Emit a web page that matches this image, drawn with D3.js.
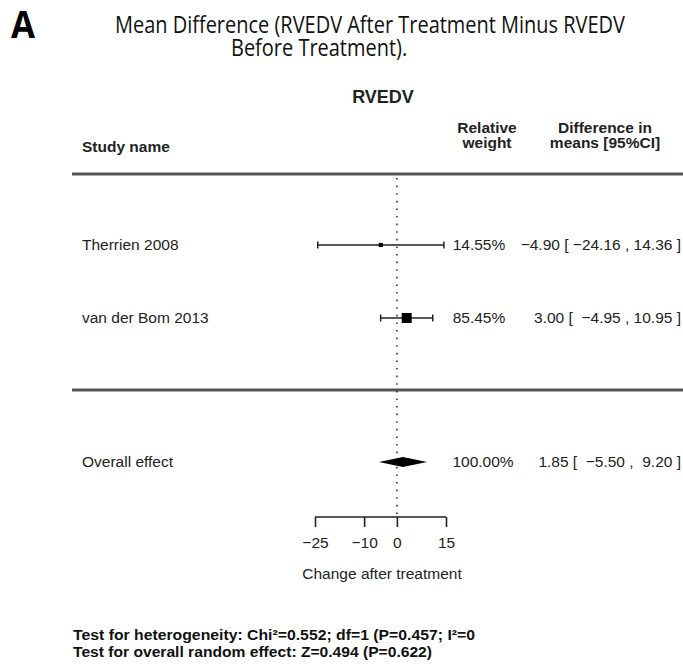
<!DOCTYPE html>
<html>
<head>
<meta charset="utf-8">
<script src="https://cdn.jsdelivr.net/npm/d3@7"></script>
<style>
  html, body { margin: 0; padding: 0; background: #fff; }
  svg { display: block; }
</style>
</head>
<body>
<script>
// Forest plot: RVEDV mean difference (after minus before treatment)
const studies = ["Therrien 2008", "van der Bom 2013"];
const estimates = [-4.90, 3.00];
const lowerCI = [-24.16, -4.95];
const upperCI = [14.36, 10.95];
const weights = [14.55, 85.45];

const overallLabel = "Overall effect";
const overall = { est: 1.85, lo: -5.50, hi: 9.20, weight: 100.00 };

const axisTicks = [-25, -10, 0, 15];
const axisDomain = [-25, 15];

const W = 683, H = 664;
const svg = d3.select("body").append("svg")
  .attr("width", W).attr("height", H)
  .style("font-family", "Liberation Sans, Arial, Helvetica, sans-serif");

svg.append("rect").attr("width", W).attr("height", H).attr("fill", "#fff");

// Panel letter, stretched vertically so its box stays inside the page
svg.append("text").attr("transform", "translate(11,38) scale(1,1.18)")
  .attr("font-family", "Open Sans, Noto Sans, sans-serif")
  .attr("font-weight", "bold").attr("font-size", 32)
  .attr("textLength", 24).attr("lengthAdjust", "spacingAndGlyphs")
  .attr("fill", "#000").text("A");

const titleFont = "Open Sans, Noto Sans, sans-serif";
const t1 = svg.append("text").attr("x", 115).attr("y", 33)
  .attr("font-family", titleFont).attr("font-size", 23).attr("fill", "#111")
  .text("Mean Difference (RVEDV After Treatment Minus RVEDV");
const t2 = svg.append("text").attr("x", 231).attr("y", 56)
  .attr("font-family", titleFont).attr("font-size", 23).attr("fill", "#111")
  .text("Before Treatment).");
// Condense both title lines by the same factor
const k = 510 / t1.node().getComputedTextLength();
t1.attr("textLength", 510).attr("lengthAdjust", "spacingAndGlyphs");
t2.attr("textLength", t2.node().getComputedTextLength() * k).attr("lengthAdjust", "spacingAndGlyphs");

const x = d3.scaleLinear().domain(axisDomain).range([315, 446]);
const rowY = d3.scalePoint().domain(studies).range([245, 318]);
const overallY = 462;
const sq = d3.scaleSqrt().domain([0, 100]).range([0, 10.8]);

const txt = "#222";
const fs = 15.5;

// Header
svg.append("text").attr("x", 383).attr("y", 103).attr("text-anchor", "middle")
  .attr("font-weight", "bold").attr("font-size", 18).attr("fill", txt).text("RVEDV");
svg.append("text").attr("x", 82).attr("y", 152)
  .attr("font-weight", "bold").attr("font-size", fs).attr("fill", txt).text("Study name");
[["Relative", 133], ["weight", 148]].forEach(([t, y]) =>
  svg.append("text").attr("x", 487).attr("y", y).attr("text-anchor", "middle")
    .attr("font-weight", "bold").attr("font-size", fs).attr("fill", txt).text(t));
[["Difference in", 133], ["means [95%CI]", 148]].forEach(([t, y]) =>
  svg.append("text").attr("x", 605).attr("y", y).attr("text-anchor", "middle")
    .attr("font-weight", "bold").attr("font-size", fs).attr("fill", txt).text(t));

// Rules
[174, 390].forEach(y =>
  svg.append("line").attr("x1", 72).attr("x2", W).attr("y1", y).attr("y2", y)
    .attr("stroke", "#555").attr("stroke-width", 3));

// Null-effect reference line
svg.append("line").attr("x1", x(0)).attr("x2", x(0)).attr("y1", 178).attr("y2", 514)
  .attr("stroke", "#333").attr("stroke-width", 1.6).attr("stroke-dasharray", "1.6,6");

// CI strings, with bounds padded to a common width
const fmt = d3.format(".2f");
const allLo = lowerCI.concat([overall.lo]).map(fmt);
const allHi = upperCI.concat([overall.hi]).map(fmt);
const loW = d3.max(allLo, s => s.length), hiW = d3.max(allHi, s => s.length);
const pad = (s, n) => " ".repeat(n - s.length) + s;
const ciText = (e, l, h) => `${fmt(e)} [ ${pad(fmt(l), loW)} , ${pad(fmt(h), hiW)} ]`;

// Study rows
studies.forEach((s, i) => {
  const y = rowY(s);
  svg.append("text").attr("x", 82).attr("y", y + 5).attr("font-size", fs).attr("fill", txt).text(s);
  const g = svg.append("g").attr("stroke", "#222").attr("stroke-width", 1.5);
  g.append("line").attr("x1", x(lowerCI[i])).attr("x2", x(upperCI[i])).attr("y1", y).attr("y2", y);
  [lowerCI[i], upperCI[i]].forEach(v =>
    g.append("line").attr("x1", x(v)).attr("x2", x(v)).attr("y1", y - 3.5).attr("y2", y + 3.5));
  const s2 = sq(weights[i]);
  svg.append("rect").attr("x", x(estimates[i]) - s2 / 2).attr("y", y - s2 / 2)
    .attr("width", s2).attr("height", s2).attr("fill", "#000");
  svg.append("text").attr("x", 479).attr("y", y + 5).attr("text-anchor", "middle")
    .attr("font-size", fs).attr("fill", txt).text(fmt(weights[i]) + "%");
  svg.append("text").attr("x", 681).attr("y", y + 5).attr("text-anchor", "end")
    .style("white-space", "pre")
    .attr("font-size", fs).attr("fill", txt).text(ciText(estimates[i], lowerCI[i], upperCI[i]));
});

// Pooled estimate
svg.append("text").attr("x", 82).attr("y", overallY + 5).attr("font-size", fs).attr("fill", txt).text(overallLabel);
svg.append("path")
  .attr("d", `M${x(overall.lo)},${overallY} L${x(overall.est)},${overallY - 5} L${x(overall.hi)},${overallY} L${x(overall.est)},${overallY + 5} Z`)
  .attr("fill", "#000");
svg.append("text").attr("x", 483).attr("y", overallY + 5).attr("text-anchor", "middle")
  .attr("font-size", fs).attr("fill", txt).text(fmt(overall.weight) + "%");
svg.append("text").attr("x", 681).attr("y", overallY + 5).attr("text-anchor", "end")
  .style("white-space", "pre")
  .attr("font-size", fs).attr("fill", txt).text(ciText(overall.est, overall.lo, overall.hi));

// Axis
const axis = d3.axisBottom(x).tickValues(axisTicks).tickSize(10).tickPadding(10)
  .tickFormat(d3.format("d"));
const ax = svg.append("g").attr("transform", "translate(0,517)").call(axis);
ax.select(".domain").attr("stroke", "#222").attr("stroke-width", 1.6)
  .attr("d", `M${x(axisDomain[0])},0H${x(axisDomain[1])}`);
ax.selectAll(".tick line").attr("stroke", "#222").attr("stroke-width", 1.6);
ax.selectAll(".tick text").attr("font-size", fs).attr("fill", txt)
  .attr("font-family", "Liberation Sans, Arial, sans-serif");
svg.append("text").attr("x", 382).attr("y", 579).attr("text-anchor", "middle")
  .attr("font-size", fs).attr("fill", txt).text("Change after treatment");

// Test statistics
svg.append("text").attr("x", 73).attr("y", 640).attr("font-weight", "bold")
  .attr("font-size", 14.5).attr("fill", "#111")
  .attr("textLength", 402).attr("lengthAdjust", "spacingAndGlyphs")
  .text("Test for heterogeneity: Chi²=0.552; df=1 (P=0.457; I²=0");
svg.append("text").attr("x", 73).attr("y", 657).attr("font-weight", "bold")
  .attr("font-size", 14.5).attr("fill", "#111")
  .attr("textLength", 359).attr("lengthAdjust", "spacingAndGlyphs")
  .text("Test for overall random effect: Z=0.494 (P=0.622)");
</script>
</body>
</html>
